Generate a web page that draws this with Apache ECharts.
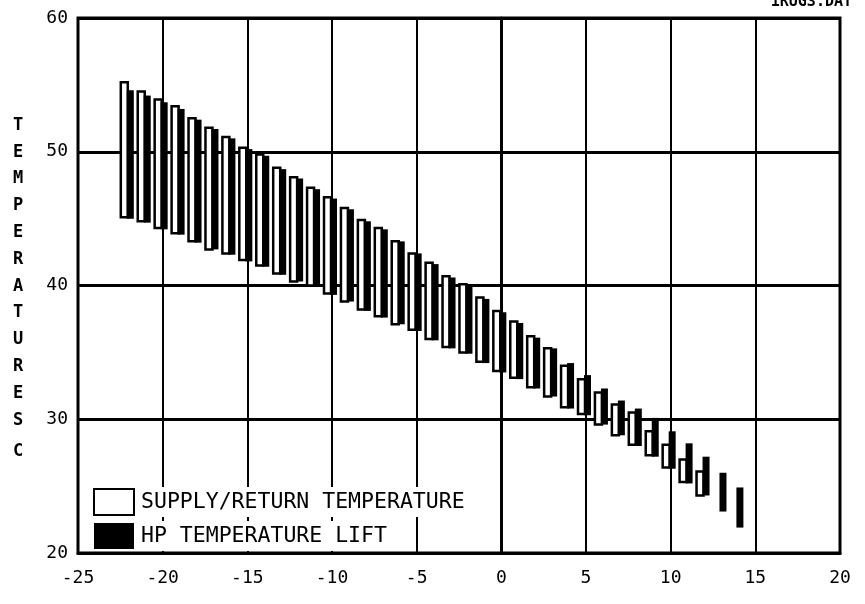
<!DOCTYPE html>
<html>
<head>
<meta charset="utf-8">
<script src="https://cdn.jsdelivr.net/npm/echarts@6/dist/echarts.min.js"></script>
<style>
html,body{margin:0;padding:0;background:#fff;}
#chart{width:865px;height:604px;}
</style>
</head>
<body>
<div id="chart"></div>
<script>
// Outdoor temperature (deg C) for each bar pair
const outdoorTemps = [-22,-21,-20,-19,-18,-17,-16,-15,-14,-13,-12,-11,-10,-9,-8,-7,-6,-5,-4,-3,-2,-1,0,1,2,3,4,5,6,7,8,9,10,11,12,13,14];
// Supply / return temperature range (white boxes)
const supplyTemp = [55.2,54.5,53.9,53.4,52.5,51.8,51.1,50.3,49.8,48.8,48.1,47.3,46.6,45.8,44.9,44.3,43.3,42.4,41.7,40.7,40.1,39.1,38.1,37.3,36.2,35.3,34.0,33.0,32.0,31.1,30.5,29.1,28.1,27.0,26.1,null,null];
const returnTemp = [45.1,44.8,44.3,43.9,43.3,42.7,42.4,41.9,41.5,40.9,40.3,40.0,39.4,38.8,38.2,37.7,37.1,36.7,36.0,35.4,35.0,34.3,33.6,33.1,32.4,31.7,30.9,30.4,29.6,28.8,28.1,27.3,26.4,25.3,24.3,null,null];
// Heat pump temperature lift (black boxes)
const liftHigh = [54.6,54.2,53.7,53.2,52.4,51.7,51.0,50.2,49.7,48.7,48.0,47.2,46.5,45.7,44.8,44.2,43.3,42.4,41.6,40.6,40.0,39.0,38.0,37.2,36.1,35.3,34.2,33.3,32.3,31.4,30.8,30.1,29.1,28.2,27.2,26.0,24.9];
const liftLow = [45.0,44.7,44.2,43.8,43.2,42.7,42.3,41.8,41.4,40.8,40.3,39.9,39.3,38.8,38.1,37.6,37.1,36.6,35.9,35.3,34.9,34.2,33.5,33.0,32.3,31.7,30.8,30.3,29.6,28.8,28.0,27.2,26.3,25.2,24.3,23.1,21.9];
const xTicks = {min: -25, max: 20, step: 5};
const yTicks = {min: 20, max: 60, step: 10};

const whiteData = outdoorTemps.map((t, i) => supplyTemp[i] == null ? [t, '-', '-'] : [t, supplyTemp[i], returnTemp[i]]);
const blackData = outdoorTemps.map((t, i) => [t, liftHigh[i], liftLow[i]]);

const FONT = 'DejaVu Sans Mono';

function makeRender(fill, dx, w, stroke) {
  return function (params, api) {
    const v1 = api.value(1), v2 = api.value(2);
    if (isNaN(v1) || isNaN(v2)) return null;
    const p1 = api.coord([api.value(0), v1]);
    const p2 = api.coord([api.value(0), v2]);
    return {
      type: 'rect',
      shape: {x: p1[0] + dx, y: p1[1], width: w, height: p2[1] - p1[1]},
      style: stroke ? {fill: fill, stroke: '#000', lineWidth: 2.5} : {fill: fill}
    };
  };
}

const chart = echarts.init(document.getElementById('chart'), null, {renderer: 'canvas'});
chart.setOption({
  backgroundColor: '#fff',
  animation: false,
  grid: {left: 78, right: 25, top: 18, bottom: 51, show: true, borderColor: '#000', borderWidth: 3, backgroundColor: 'transparent'},
  xAxis: {
    type: 'value', min: xTicks.min, max: xTicks.max, interval: xTicks.step,
    axisLine: {show: true, lineStyle: {color: '#000', width: 3}},
    axisTick: {show: false},
    splitLine: {show: true, lineStyle: {color: '#000', width: 2}},
    axisLabel: {color: '#000', fontFamily: FONT, fontSize: 18, margin: 16}
  },
  yAxis: {
    type: 'value', min: yTicks.min, max: yTicks.max, interval: yTicks.step,
    axisLine: {show: true, lineStyle: {color: '#000', width: 3}},
    axisTick: {show: false},
    splitLine: {show: true, lineStyle: {color: '#000', width: 3}},
    axisLabel: {color: '#000', fontFamily: FONT, fontSize: 18, margin: 10}
  },
  legend: {
    left: 88, top: 482, orient: 'vertical', itemWidth: 40, itemHeight: 26, itemGap: 4,
    selectedMode: false,
    textStyle: {color: '#000', fontFamily: FONT, fontSize: 21.5, backgroundColor: '#fff', padding: [4, 4, 4, 2]},
    data: [
      {name: 'SUPPLY/RETURN TEMPERATURE', icon: 'rect', itemStyle: {color: '#fff', borderColor: '#000', borderWidth: 2}},
      {name: 'HP TEMPERATURE LIFT', icon: 'rect', itemStyle: {color: '#000', borderWidth: 0}}
    ]
  },
  graphic: [
    {type: 'text', style: {text: 'T\nE\nM\nP\nE\nR\nA\nT\nU\nR\nE\nS', x: 18, y: 112, textAlign: 'center', textVerticalAlign: 'top', font: 'bold 17px "DejaVu Sans Mono"', lineHeight: 26.8, fill: '#000'}},
    {type: 'text', style: {text: 'C', x: 18, y: 452, textAlign: 'center', textVerticalAlign: 'middle', font: 'bold 17px "DejaVu Sans Mono"', fill: '#000'}},
    {type: 'text', style: {text: '1RUG3.DAT', x: 852, y: -5, textAlign: 'right', textVerticalAlign: 'top', font: 'bold 15px "DejaVu Sans Mono"', fill: '#000'}}
  ],
  series: [
    {
      name: 'SUPPLY/RETURN TEMPERATURE', type: 'custom',
      itemStyle: {color: '#fff', borderColor: '#000', borderWidth: 2},
      encode: {x: 0, y: [1, 2]},
      renderItem: makeRender('#fff', -8, 7, true),
      data: whiteData, z: 3
    },
    {
      name: 'HP TEMPERATURE LIFT', type: 'custom',
      itemStyle: {color: '#000'},
      encode: {x: 0, y: [1, 2]},
      renderItem: makeRender('#000', -2, 7, false),
      data: blackData, z: 4
    }
  ]
});
</script>
</body>
</html>
